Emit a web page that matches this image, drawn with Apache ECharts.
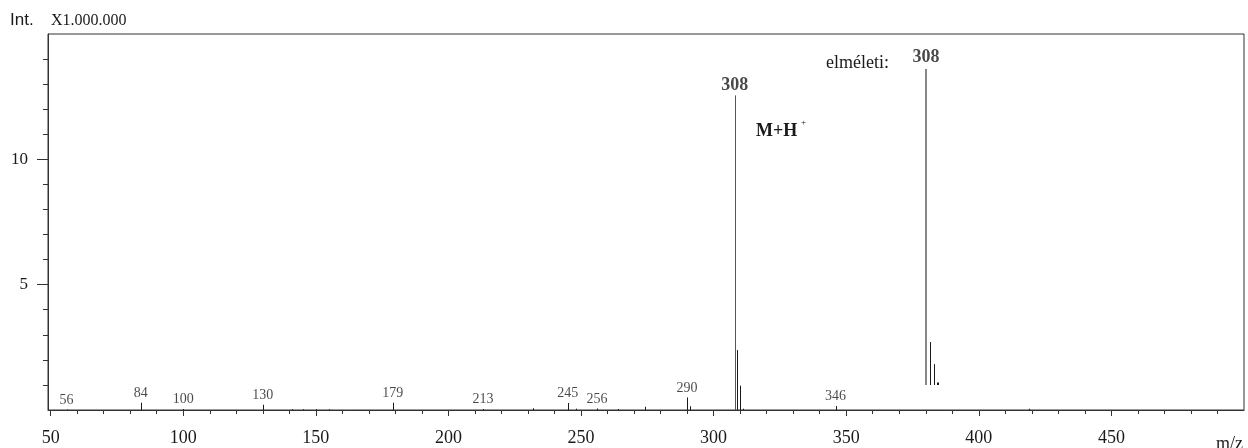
<!DOCTYPE html>
<html>
<head>
<meta charset="utf-8">
<script src="https://cdn.jsdelivr.net/npm/echarts@6/dist/echarts.min.js"></script>
<style>
html,body{margin:0;padding:0;background:#fff;}
#chart{width:1248px;height:448px;}
</style>
</head>
<body>
<div id="chart"></div>
<script>
// ---- data ----
const mz        = [56, 84, 100, 130, 141, 145, 150, 155, 179, 213, 232, 245, 248, 256, 264, 274, 290, 291, 308, 309, 310, 311, 346, 419];
const intensity = [0.02, 0.29, 0.04, 0.21, 0.03, 0.03, 0.03, 0.03, 0.29, 0.04, 0.07, 0.28, 0.05, 0.06, 0.04, 0.13, 0.50, 0.15, 12.55, 2.39, 0.97, 0.05, 0.16, 0.05];
const labeledPeaks = [56, 84, 100, 130, 179, 213, 245, 256, 290, 346];
const basePeak = 308;
// theoretical isotope pattern (inset, relative %)
const theoMz        = [308, 309, 310, 311];
const theoIntensity = [100, 13.6, 6.6, 0.8];
// axis ticks
const xMajorTicks = [50, 100, 150, 200, 250, 300, 350, 400, 450];
const xMinorTicks = [60,70,80,90,110,120,130,140,160,170,180,190,210,220,230,240,260,270,280,290,310,320,330,340,360,370,380,390,410,420,430,440,460,470,480,490];
const yMajorTicks = [5, 10];
const yMinorTicks = [1,2,3,4,6,7,8,9,11,12,13,14];

const SERIF = "'Liberation Serif','Times New Roman',serif";
const INK = '#1a1a1a';

const chart = echarts.init(document.getElementById('chart'), null, {renderer: 'canvas'});

function stick(colorFn, widthFn) {
  return function (params, api) {
    const x = api.value(0), y = api.value(1);
    const p0 = api.coord([x, 0]);
    const p1 = api.coord([x, y]);
    const w = widthFn(x);
    const px = (w % 2 === 1) ? Math.round(p0[0]) + 0.5 : Math.round(p0[0]);
    return {
      type: 'line',
      shape: {x1: px, y1: p0[1], x2: px, y2: p1[1]},
      style: {stroke: colorFn(x), lineWidth: w}
    };
  };
}

const peakData = mz.map((m, i) => [m, intensity[i]]);
const smallLabelData = labeledPeaks.map(m => [m, intensity[mz.indexOf(m)]]);
const baseLabelData = [[basePeak, intensity[mz.indexOf(basePeak)]]];
const theoData = theoMz.map((m, i) => [m, theoIntensity[i]]);

const option = {
  animation: false,
  backgroundColor: '#fff',
  grid: [
    {left: 48, right: 4, top: 34, bottom: 38, show: true, borderColor: '#333', borderWidth: 1, backgroundColor: 'transparent'},
    {left: 922, right: 306, top: 69, bottom: 63, show: false}
  ],
  xAxis: [
    {type: 'value', gridIndex: 0, min: 49, max: 500,
      axisLine: {show: true, lineStyle: {color: '#333', width: 1}},
      axisTick: {show: true, length: 6, lineStyle: {color: '#333'}, customValues: xMajorTicks},
      axisLabel: {show: true, customValues: xMajorTicks, margin: 19, fontFamily: SERIF, fontSize: 18, color: INK},
      splitLine: {show: false}},
    {type: 'value', gridIndex: 0, min: 49, max: 500, position: 'bottom',
      axisLine: {show: false},
      axisTick: {show: true, length: 4, lineStyle: {color: '#333'}, customValues: xMinorTicks},
      axisLabel: {show: false}, splitLine: {show: false}},
    {type: 'value', gridIndex: 1, min: 307, max: 312, show: false}
  ],
  yAxis: [
    {type: 'value', gridIndex: 0, min: 0, max: 15,
      axisLine: {show: true, lineStyle: {color: '#333', width: 1}},
      axisTick: {show: true, length: 11, lineStyle: {color: '#333'}, customValues: yMajorTicks},
      axisLabel: {show: true, customValues: yMajorTicks, margin: 20, fontFamily: SERIF, fontSize: 17, color: INK},
      splitLine: {show: false}},
    {type: 'value', gridIndex: 0, min: 0, max: 15, position: 'left',
      axisLine: {show: false},
      axisTick: {show: true, length: 5, lineStyle: {color: '#333'}, customValues: yMinorTicks},
      axisLabel: {show: false}, splitLine: {show: false}},
    {type: 'value', gridIndex: 1, min: 0, max: 100, show: false}
  ],
  series: [
    {type: 'custom', xAxisIndex: 0, yAxisIndex: 0, data: peakData, silent: true,
      renderItem: stick(x => x === basePeak ? '#555' : INK, x => 1)},
    {type: 'scatter', xAxisIndex: 0, yAxisIndex: 0, data: smallLabelData, symbolSize: 1, silent: true,
      itemStyle: {color: 'rgba(0,0,0,0)'},
      label: {show: true, position: 'top', distance: 2, formatter: p => String(p.value[0]),
        fontFamily: SERIF, fontSize: 14, color: INK}},
    {type: 'scatter', xAxisIndex: 0, yAxisIndex: 0, data: baseLabelData, symbolSize: 1, silent: true,
      itemStyle: {color: 'rgba(0,0,0,0)'},
      label: {show: true, position: 'top', distance: 1, formatter: p => String(p.value[0]),
        fontFamily: SERIF, fontSize: 18, fontWeight: 'bold', color: INK}},
    {type: 'custom', xAxisIndex: 2, yAxisIndex: 2, data: theoData, silent: true,
      renderItem: stick(x => x === 308 ? '#888' : INK, x => (x === 308 || x === 311) ? 2 : 1)},
    {type: 'scatter', xAxisIndex: 2, yAxisIndex: 2, data: [theoData[0]], symbolSize: 1, silent: true,
      itemStyle: {color: 'rgba(0,0,0,0)'},
      label: {show: true, position: 'top', distance: 2, formatter: p => String(p.value[0]),
        fontFamily: SERIF, fontSize: 18, fontWeight: 'bold', color: INK}}
  ],
  graphic: [
    {type: 'text', left: 10, top: 12, style: {text: 'Int.', font: "17px 'Liberation Sans', Arial, sans-serif", fill: INK}},
    {type: 'text', left: 51, top: 13, style: {text: 'X1.000.000', font: "16px " + SERIF, fill: INK}},
    {type: 'text', left: 1216, top: 435, style: {text: 'm/z', font: "18px " + SERIF, fill: INK}},
    {type: 'text', left: 756, top: 122, style: {text: 'M+H', font: "bold 18px " + SERIF, fill: INK}},
    {type: 'text', left: 801, top: 118, style: {text: '+', font: "9px " + SERIF, fill: INK}},
    {type: 'text', left: 826, top: 54, style: {text: 'elméleti:', font: "18px " + SERIF, fill: INK}}
  ]
};
chart.setOption(option);
</script>
</body>
</html>
